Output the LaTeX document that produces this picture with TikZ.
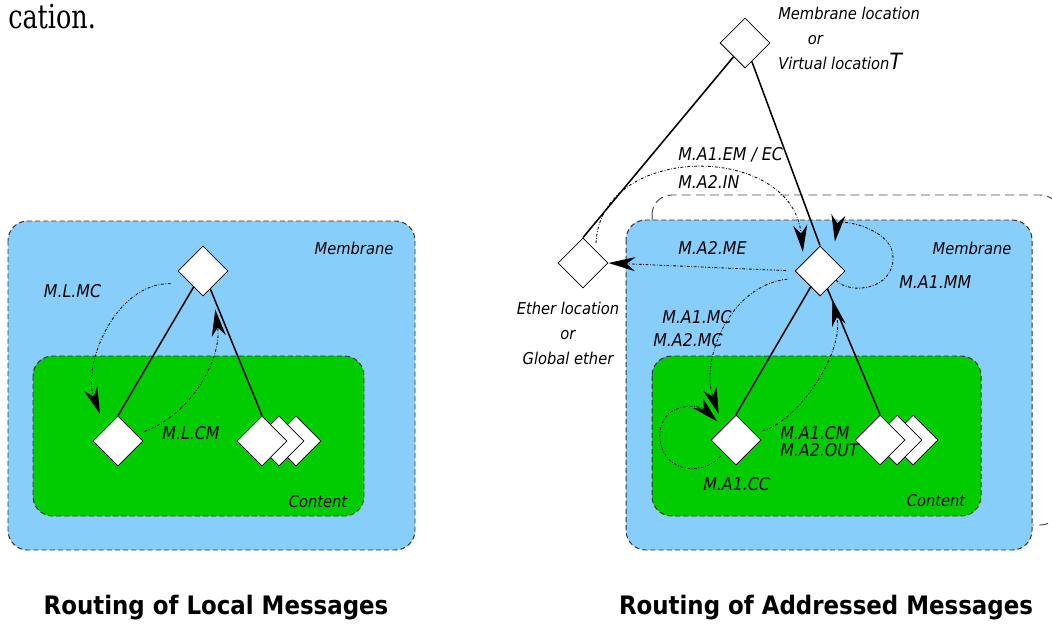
\documentclass[tikz,border=0pt]{standalone}
\usepackage{fontspec}
\usetikzlibrary{shapes.geometric, arrows.meta}
\newfontfamily\lblfont{DejaVu Sans}[FakeStretch=0.9]
\newfontfamily\pagefont{DejaVu Serif}[FakeStretch=0.77]
\definecolor{membblue}{RGB}{135,206,250}
\definecolor{contgreen}{RGB}{0,204,0}

\tikzset{
  membbox/.style={draw=black!80, fill=membblue, dash pattern=on 3.6pt off 2.2pt, line width=0.7pt, rounded corners=14pt},
  contbox/.style={membbox, fill=contgreen},
  stackbox/.style={draw=black!70, dash pattern=on 6.4pt off 3.6pt, line width=0.7pt, rounded corners=14pt},
  loc/.style={diamond, draw, fill=white, line width=0.6pt, inner sep=0pt, minimum width=35.6pt, minimum height=35.6pt},
  link/.style={line width=1.1pt},
  msg/.style={line width=0.6pt, dash pattern=on 2pt off 1.2pt on 0.5pt off 1.2pt, -{Stealth[length=19pt,width=10pt,inset=6pt]}},
  boxlbl/.style={font=\lblfont\itshape\fontsize{11.6pt}{14pt}\selectfont, inner sep=0pt},
  msglbl/.style={font=\lblfont\itshape\fontsize{12.5pt}{15pt}\selectfont, inner sep=0pt, anchor=west},
  loctxt/.style={font=\lblfont\itshape\fontsize{11.6pt}{17.8pt}\selectfont, inner sep=0pt},
  ttl/.style={font=\lblfont\bfseries\fontsize{18.1pt}{22pt}\selectfont, inner sep=0pt},
}

\begin{document}
\begin{tikzpicture}[x=0.025cm, y=-0.025cm]
  \useasboundingbox (0,0) rectangle (1052,630);
  % page text above the figure
  \node[inner sep=0pt, anchor=base west, font=\pagefont\fontsize{23.5pt}{26pt}\selectfont] (pagetxt) at (8,29) {cation.};

  % Local messages
  \draw[membbox] (8,221) rectangle (415,550);
  \draw[contbox] (33,356) rectangle (364,516);
  \node[boxlbl] (lmemb) at (354,248) {Membrane};
  \node[boxlbl] (lcont) at (318,502) {Content};
  \node[loc] (lm) at (203,271) {};
  \node[loc] (lc) at (118,441) {};
  \node[loc] (lk3) at (296,441) {};
  \node[loc] (lk2) at (279,441) {};
  \node[loc] (lk1) at (262,441) {};
  \draw[link] (lm) -- (lc.north);
  \draw[link] (lm) -- (lk1.north);
  \draw[msg, shorten <=14pt, shorten >=11pt] (lm.south west) .. controls (115,283) and (82,365) .. (lc.north west);
  \draw[msg, shorten <=6pt, shorten >=16pt] (lc.20) .. controls (190,415) and (222,360) .. (lm.-60);
  \node[msglbl, anchor=center] (lmc) at (72.5,291) {M.L.MC};
  \node[msglbl, anchor=center] (lcm) at (191,433) {M.L.CM};
  \node[ttl] (ltitle) at (216,608) {Routing of Local Messages};

  % Addressed messages
  \begin{scope}
    \clip (0,0) rectangle (1052,630);
    \draw[stackbox] (652,195) rectangle (1060,525);
  \end{scope}
  \draw[membbox] (626,220) rectangle (1032,550);
  \draw[contbox] (652,356) rectangle (981,516);
  \node[boxlbl] (rmemb) at (972,248) {Membrane};
  \node[boxlbl] (rcont) at (936,501) {Content};
  \node[loc] (mloc) at (745,43) {};
  \node[loc] (eloc) at (583,263) {};
  \node[loc] (rm) at (820,271) {};
  \node[loc] (rc) at (736,440) {};
  \node[loc] (rk3) at (913,440) {};
  \node[loc] (rk2) at (897,440) {};
  \node[loc] (rk1) at (880,440) {};
  \draw[link] (mloc) -- (eloc.north);
  \draw[link] (mloc) -- (rm.north);
  \draw[link] (rm) -- (rc.north);
  \draw[link] (rm) -- (rk1.north);
  % message routes
  \draw[msg, shorten <=5pt, shorten >=7pt] (eloc.north east) .. controls (600,142) and (792,142) .. (rm.150);
  \draw[msg, shorten <=6pt] (rm.west) -- (eloc.east);
  \draw[msg, shorten >=12pt] (rm.-30) .. controls (850,295) and (893,290) .. (893,258) .. controls (894,228) and (838,218) .. (rm.north east);
  \draw[msg, shorten <=10pt, shorten >=10pt] (rm.200) .. controls (730,285) and (700,360) .. (rc.north west);
  \draw[msg, shorten <=3pt, shorten >=6pt] (rc.south west) .. controls (705,475) and (665,475) .. (660,440) .. controls (657,400) and (700,405) .. (rc.north west);
  \draw[msg, shorten <=6pt, shorten >=9pt] (rc.20) .. controls (800,420) and (845,350) .. (rm.-60);
  \node[msglbl] (emec) at (678,155) {M.A1.EM / EC};
  \node[msglbl] (a2in) at (678,182) {M.A2.IN};
  \node[msglbl] (a2me) at (678,248) {M.A2.ME};
  \node[msglbl] (a1mm) at (899,282) {M.A1.MM};
  \node[msglbl] (a1mc) at (662,317) {M.A1.MC};
  \node[msglbl] (a2mc) at (653,340) {M.A2.MC};
  \node[msglbl] (a1cm) at (780,433) {M.A1.CM};
  \node[msglbl] (a2out) at (780,450) {M.A2.OUT};
  \node[msglbl] (a1cc) at (703,484) {M.A1.CC};
  \node[loctxt, align=center] (etxt) at (568,333) {Ether location\\or\\Global ether};
  \node[loctxt, align=left, anchor=west] (mtxt) at (778,38) {Membrane location\\\hspace*{21pt}or\\Virtual location{\fontsize{16pt}{16pt}\selectfont T}};
  \node[ttl] (rtitle) at (826,608) {Routing of Addressed Messages};
\end{tikzpicture}
\end{document}
